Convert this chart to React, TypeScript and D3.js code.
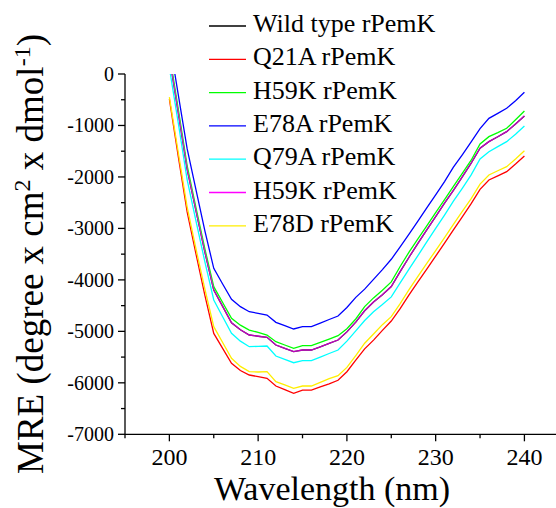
import React from 'react';
import * as d3 from 'd3';

// wavelength (nm), 1 nm steps
const wavelengths = d3.range(200, 241);

// MRE values, one per nm from 200 to 240
const wildType = [330, -750, -1850, -2660, -3460, -4197, -4515, -4832, -4970, -5071, -5095, -5116, -5265, -5330, -5395, -5362, -5362, -5300, -5235, -5168, -5010, -4820, -4600, -4430, -4290, -4130, -3840, -3560, -3290, -3030, -2770, -2510, -2260, -2000, -1730, -1440, -1314, -1220, -1120, -970, -816];
const q21a = [-490, -1600, -2680, -3500, -4300, -5040, -5330, -5621, -5760, -5848, -5880, -5913, -6062, -6133, -6204, -6140, -6140, -6080, -6020, -5950, -5784, -5560, -5340, -5170, -4980, -4800, -4560, -4290, -4040, -3790, -3540, -3285, -3030, -2775, -2520, -2240, -2059, -1980, -1898, -1750, -1593];
const h59k = [400, -680, -1780, -2600, -3400, -4132, -4440, -4747, -4880, -4974, -5020, -5071, -5201, -5265, -5329, -5278, -5278, -5215, -5150, -5084, -4950, -4760, -4520, -4350, -4200, -4040, -3740, -3460, -3205, -2950, -2695, -2440, -2185, -1930, -1675, -1360, -1217, -1140, -1055, -890, -719];
const e78a = [650, -400, -1450, -2250, -3050, -3775, -4080, -4377, -4520, -4618, -4650, -4683, -4825, -4890, -4954, -4909, -4909, -4840, -4770, -4702, -4536, -4340, -4180, -3990, -3800, -3600, -3360, -3110, -2860, -2600, -2350, -2090, -1810, -1570, -1320, -1060, -861, -765, -667, -520, -356];
const q79a = [120, -950, -2050, -2860, -3650, -4391, -4715, -5038, -5190, -5298, -5290, -5285, -5479, -5545, -5609, -5570, -5570, -5500, -5430, -5362, -5190, -4990, -4790, -4620, -4480, -4330, -4060, -3790, -3530, -3260, -3000, -2740, -2470, -2220, -1960, -1650, -1509, -1410, -1314, -1170, -1010];
const h59k2 = [330, -750, -1850, -2660, -3460, -4197, -4515, -4832, -4970, -5071, -5095, -5116, -5265, -5330, -5395, -5362, -5362, -5300, -5235, -5168, -5010, -4820, -4600, -4430, -4290, -4130, -3840, -3560, -3290, -3030, -2770, -2510, -2260, -2000, -1730, -1440, -1314, -1220, -1120, -970, -816];
const e78d = [-450, -1520, -2580, -3400, -4180, -4909, -5217, -5524, -5680, -5783, -5790, -5783, -5978, -6040, -6107, -6062, -6062, -5990, -5920, -5861, -5700, -5470, -5230, -5050, -4870, -4715, -4460, -4190, -3930, -3680, -3430, -3180, -2920, -2670, -2420, -2140, -1962, -1880, -1800, -1650, -1490];

const seriesNames = ['Wild type rPemK', 'Q21A rPemK', 'H59K rPemK', 'E78A rPemK', 'Q79A rPemK', 'H59K rPemK', 'E78D rPemK'];
const seriesValues = [wildType, q21a, h59k, e78a, q79a, h59k2, e78d];
const seriesColors = ['#000000', '#ff0000', '#00ff00', '#0000ff', '#00ffff', '#ff00ff', '#ffee00'];

const yMajor = d3.range(-7000, 1, 1000);
const yMinor = d3.range(-6500, 0, 1000);
const xMajor = [200, 210, 220, 230, 240];
const xMinor = [195, 205, 215, 225, 235, 245];

const W = 556;
const H = 508;
const font = "Liberation Serif, Times New Roman, serif";

export default function App() {
  const x = d3.scaleLinear().domain([195, 245]).range([125, 568.8]);
  const y = d3.scaleLinear().domain([-7000, 0]).range([434.3, 74]);
  const left = x(195);
  const bottom = y(-7000);

  const line = d3.line<number>()
    .x((d, i) => x(wavelengths[i]))
    .y(d => y(d));

  const txt = { fontFamily: font };

  return (
    <svg width={W} height={H} style={{ position: 'absolute', left: 0, top: 0, background: '#fff' }}>
      <defs>
        <clipPath id="plot">
          <rect x={left} y={y(0)} width={W - left} height={bottom - y(0)} />
        </clipPath>
      </defs>

      <g clipPath="url(#plot)" fill="none">
        {seriesValues.map((vals, i) => (
          <path key={i} d={line(vals) || ''} stroke={seriesColors[i]}
            strokeWidth={1.3} strokeOpacity={i === 5 ? 0.75 : 1} />
        ))}
      </g>

      {/* y axis */}
      <line x1={left} x2={left} y1={y(0)} y2={bottom} stroke="#000" strokeWidth={1.3} />
      {yMajor.map(v => (
        <g key={v}>
          <line x1={left - 7} x2={left} y1={y(v)} y2={y(v)} stroke="#000" strokeWidth={1.3} />
          <text style={txt} x={left - 11} y={y(v)} dy="0.34em" textAnchor="end" fontSize={20}>{v}</text>
        </g>
      ))}
      {yMinor.map(v => (
        <line key={v} x1={left - 4} x2={left} y1={y(v)} y2={y(v)} stroke="#000" strokeWidth={1.3} />
      ))}

      {/* x axis */}
      <line x1={left} x2={W} y1={bottom} y2={bottom} stroke="#000" strokeWidth={1.3} />
      {xMajor.map(v => (
        <g key={v}>
          <line x1={x(v)} x2={x(v)} y1={bottom} y2={bottom + 7} stroke="#000" strokeWidth={1.3} />
          <text style={txt} x={x(v)} y={464.5} textAnchor="middle" fontSize={24}>{v}</text>
        </g>
      ))}
      {xMinor.map(v => (
        <line key={v} x1={x(v)} x2={x(v)} y1={bottom} y2={bottom + 4} stroke="#000" strokeWidth={1.3} />
      ))}

      <text style={txt} x={332} y={500} textAnchor="middle" fontSize={34}>Wavelength (nm)</text>
      <text style={txt} transform={`translate(43,254) rotate(-90)`} textAnchor="middle" fontSize={37}>
        MRE (degree x cm<tspan baselineShift="super" fontSize={24}>2</tspan> x dmol<tspan baselineShift="super" fontSize={24}>-1</tspan>)
      </text>

      {/* legend */}
      {seriesNames.map((name, i) => {
        const ly = 26 + i * 33.3;
        return (
          <g key={i}>
            <line x1={209} x2={246} y1={ly} y2={ly} stroke={seriesColors[i]} strokeWidth={1.3} />
            <text style={txt} x={253} y={ly + 6} fontSize={26}>{name}</text>
          </g>
        );
      })}
    </svg>
  );
}
